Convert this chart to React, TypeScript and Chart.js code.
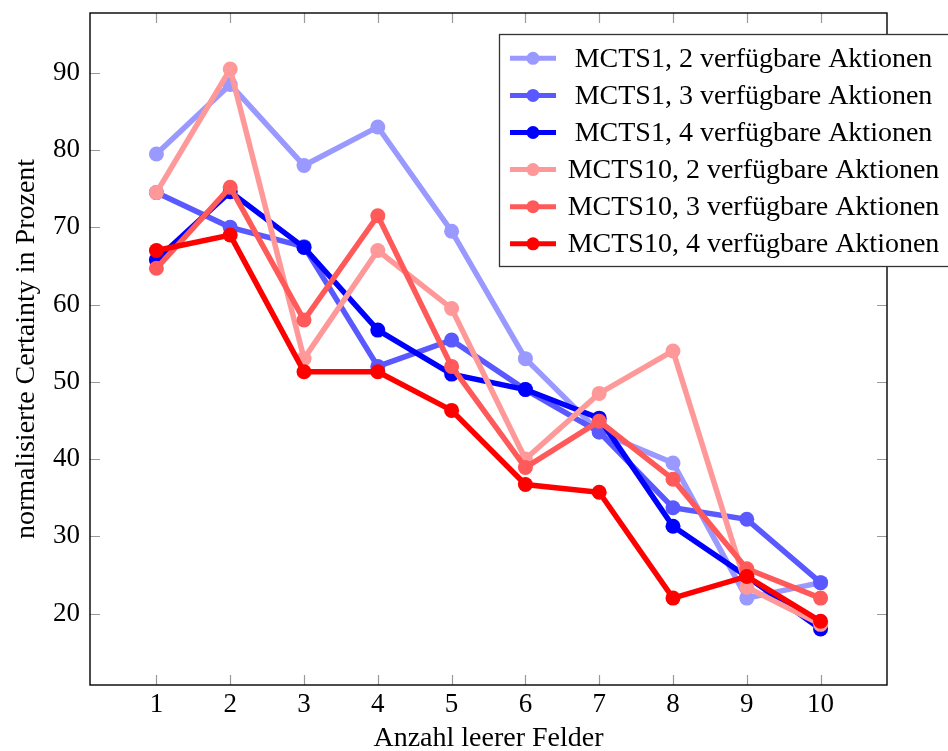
import React, { useEffect, useRef } from "react";
import { Chart, registerables } from "chart.js";

Chart.register(...registerables);

const xCategories = [1, 2, 3, 4, 5, 6, 7, 8, 9, 10];
const yTickValues = [20, 30, 40, 50, 60, 70, 80, 90];

const seriesLabels = [
  "MCTS1, 2 verfügbare Aktionen",
  "MCTS1, 3 verfügbare Aktionen",
  "MCTS1, 4 verfügbare Aktionen",
  "MCTS10, 2 verfügbare Aktionen",
  "MCTS10, 3 verfügbare Aktionen",
  "MCTS10, 4 verfügbare Aktionen",
];

const mcts1a2 = [79.5, 88.5, 78, 83, 69.5, 53, 43.5, 39.5, 22, 24];
const mcts1a3 = [74.5, 70, 67.5, 52, 55.4, 49, 43.5, 33.7, 32.2, 24];
const mcts1a4 = [65.8, 74.6, 67.4, 56.7, 51, 49, 45.3, 31.3, 24.8, 18];
const mcts10a2 = [74.5, 90.5, 53, 67, 59.5, 40, 48.5, 54, 23.4, 18.6];
const mcts10a3 = [64.7, 75.2, 58, 71.5, 52, 38.9, 44.9, 37.4, 25.8, 22];
const mcts10a4 = [67, 69, 51.3, 51.3, 46.3, 36.7, 35.7, 22, 24.8, 19];

const seriesValues = [mcts1a2, mcts1a3, mcts1a4, mcts10a2, mcts10a3, mcts10a4];
const seriesColors = ["#9999ff", "#5959ff", "#0000ff", "#ff9999", "#ff5959", "#ff0000"];

const FONT = "'Liberation Serif', 'Times New Roman', serif";

const framePlugin = {
  id: "framePlugin",
  beforeDatasetsDraw(chart: any) {
    const { ctx, chartArea } = chart;
    const { left, right, top, bottom } = chartArea;
    const xs = chart.scales.x;
    const ys = chart.scales.y;
    const tl = 10;
    ctx.save();
    ctx.strokeStyle = "#9a9a9a";
    ctx.lineWidth = 1.2;
    ctx.beginPath();
    xCategories.forEach((v) => {
      const px = Math.round(xs.getPixelForValue(v)) + 0.5;
      ctx.moveTo(px, bottom);
      ctx.lineTo(px, bottom - tl);
      ctx.moveTo(px, top);
      ctx.lineTo(px, top + tl);
    });
    yTickValues.forEach((v) => {
      const py = Math.round(ys.getPixelForValue(v)) + 0.5;
      ctx.moveTo(left, py);
      ctx.lineTo(left + tl, py);
      ctx.moveTo(right, py);
      ctx.lineTo(right - tl, py);
    });
    ctx.stroke();
    ctx.restore();
  },
  afterDatasetsDraw(chart: any) {
    const { ctx, chartArea } = chart;
    const { left, right, top, bottom } = chartArea;
    ctx.save();
    ctx.strokeStyle = "#000";
    ctx.lineWidth = 1.4;
    ctx.strokeRect(left, top, right - left, bottom - top);
    ctx.restore();
  },
  afterDraw(chart: any) {
    const { ctx } = chart;
    const boxLeft = 499.5;
    const boxTop = 34.5;
    const boxW = 470;
    const boxH = 232;
    ctx.save();
    ctx.fillStyle = "#fff";
    ctx.fillRect(boxLeft, boxTop, boxW, boxH);
    ctx.strokeStyle = "#333";
    ctx.lineWidth = 1.3;
    ctx.strokeRect(boxLeft, boxTop, boxW, boxH);
    const rowY0 = 58.3;
    const rowGap = 37.1;
    seriesLabels.forEach((label, i) => {
      const y = rowY0 + i * rowGap;
      ctx.strokeStyle = seriesColors[i];
      ctx.lineWidth = 5;
      ctx.beginPath();
      ctx.moveTo(510, y);
      ctx.lineTo(556, y);
      ctx.stroke();
      ctx.fillStyle = seriesColors[i];
      ctx.beginPath();
      ctx.arc(533, y, 6.5, 0, Math.PI * 2);
      ctx.fill();
      ctx.fillStyle = "#000";
      ctx.font = `28px ${FONT}`;
      ctx.textAlign = "center";
      ctx.textBaseline = "middle";
      ctx.fillText(label, 753.5, y + 1);
    });
    ctx.restore();
  },
};

export default function App() {
  const canvasRef = useRef<HTMLCanvasElement | null>(null);

  useEffect(() => {
    document.body.style.margin = "0";
    const canvas = canvasRef.current;
    if (!canvas) return;
    const datasets = seriesLabels.map((label, i) => ({
      label,
      data: xCategories.map((x, j) => ({ x, y: seriesValues[i][j] })),
      borderColor: seriesColors[i],
      backgroundColor: seriesColors[i],
      pointBackgroundColor: seriesColors[i],
      pointBorderColor: seriesColors[i],
      borderWidth: 5.5,
      pointRadius: 7.5,
      pointBorderWidth: 0,
      tension: 0,
      fill: false,
      order: seriesLabels.length - i,
    }));
    const chart = new Chart(canvas, {
      type: "line",
      data: { datasets },
      plugins: [framePlugin],
      options: {
        animation: false,
        responsive: false,
        devicePixelRatio: 1,
        layout: { padding: { top: 13, right: 61, left: 0, bottom: 0 } },
        plugins: {
          legend: { display: false },
          tooltip: { enabled: false },
        },
        scales: {
          x: {
            type: "linear",
            min: 0.1,
            max: 10.9,
            afterBuildTicks: (scale: any) => {
              scale.ticks = xCategories.map((v) => ({ value: v }));
            },
            afterFit: (scale: any) => {
              scale.height = 66;
              scale.paddingLeft = 0;
              scale.paddingRight = 0;
            },
            grid: { display: false, drawTicks: false },
            border: { display: false },
            ticks: {
              padding: 4,
              color: "#000",
              font: { family: FONT, size: 27 },
              callback: (v: any) => String(v),
              maxRotation: 0,
              autoSkip: false,
            },
            title: {
              display: true,
              text: "Anzahl leerer Felder",
              color: "#000",
              font: { family: FONT, size: 28 },
              padding: { top: 0, bottom: -4 },
            },
          },
          y: {
            type: "linear",
            min: 10.75,
            max: 97.75,
            afterBuildTicks: (scale: any) => {
              scale.ticks = yTickValues.map((v) => ({ value: v }));
            },
            afterFit: (scale: any) => {
              scale.width = 90;
              scale.paddingTop = 0;
              scale.paddingBottom = 0;
            },
            grid: { display: false, drawTicks: false },
            border: { display: false },
            ticks: {
              padding: 10,
              color: "#000",
              font: { family: FONT, size: 27 },
              callback: (v: any) => String(v),
              autoSkip: false,
            },
            title: {
              display: true,
              text: "normalisierte Certainty in Prozent",
              color: "#000",
              font: { family: FONT, size: 28 },
              padding: { top: 10, bottom: 0 },
            },
          },
        },
      },
    });
    return () => chart.destroy();
  }, []);

  return (
    <div style={{ width: 948, height: 751, overflow: "hidden" }}>
      <canvas ref={canvasRef} width={948} height={751} style={{ display: "block" }} />
    </div>
  );
}
